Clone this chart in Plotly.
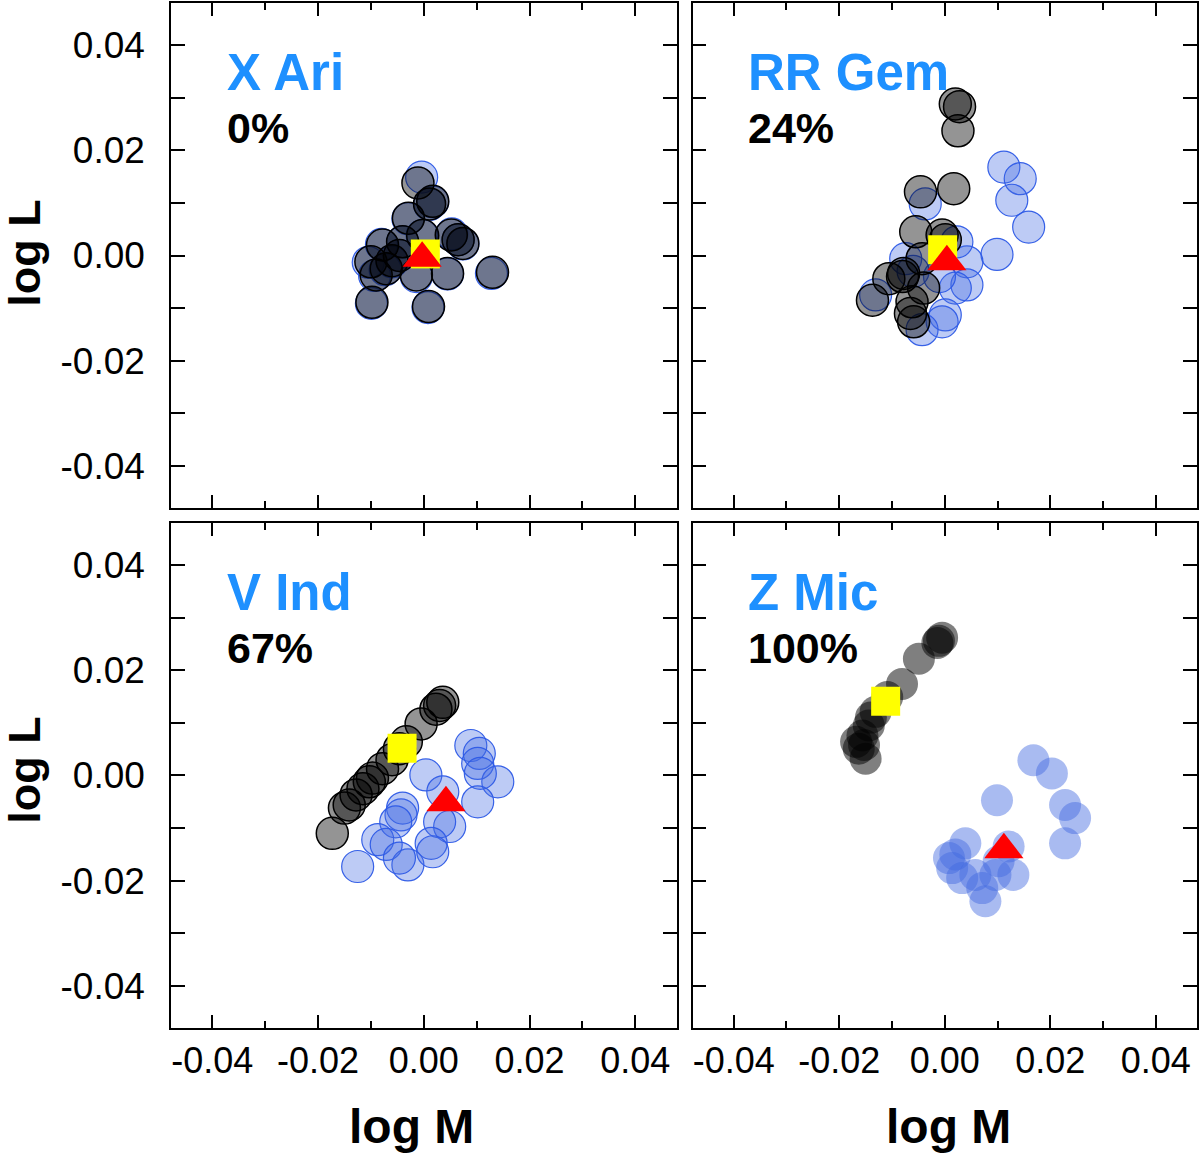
import plotly.graph_objects as go
from plotly.subplots import make_subplots

# ---- data (log M, log L) ----
stars = ["X Ari", "RR Gem", "V Ind", "Z Mic"]
percents = ["0%", "24%", "67%", "100%"]

xari_black_x = [-0.0011, 0.0011, 0.0017, -0.0029, 0.0052, 0.0074, 0.0065, 0.0130, -0.0098, 0.0009,
                0.0045, -0.0100, -0.0078, -0.0071, -0.0046, -0.0090, -0.0014, -0.0040, -0.0002, -0.0060]
xari_black_y = [0.0138, 0.0098, 0.0103, 0.0071, 0.0039, 0.0023, 0.0030, -0.0032, -0.0089, -0.0097,
                -0.0034, -0.0012, 0.0020, -0.0025, 0.0000, -0.0037, -0.0037, 0.0026, 0.0038, -0.0010]
xari_blue_x = [-0.0004, 0.0011, 0.0017, -0.0030, 0.0053, 0.0074, 0.0065, 0.0128, -0.0099, 0.0008,
               0.0045, -0.0105, -0.0080, -0.0073, -0.0046, -0.0093, -0.0014, -0.0040, -0.0003, -0.0060]
xari_blue_y = [0.0149, 0.0097, 0.0102, 0.0070, 0.0041, 0.0022, 0.0030, -0.0034, -0.0091, -0.0099,
               -0.0035, -0.0013, 0.0021, -0.0027, 0.0000, -0.0038, -0.0040, 0.0026, 0.0038, -0.0012]

rrgem_black_x = [0.0020, 0.0028, 0.0025, -0.0046, 0.0017, -0.0055, -0.0005, 0.0001, -0.0043, -0.0106,
                 -0.0078, -0.0137, -0.0040, -0.0062, -0.0065, -0.0059, -0.0080]
rrgem_black_y = [0.0288, 0.0283, 0.0237, 0.0121, 0.0127, 0.0045, 0.0039, 0.0030, -0.0006, -0.0044,
                 -0.0034, -0.0085, -0.0062, -0.0088, -0.0110, -0.0126, -0.0040]
rrgem_blue_x = [0.0112, 0.0143, 0.0127, 0.0159, 0.0099, 0.0042, 0.0042, 0.0020, 0.0001, -0.0005,
                -0.0043, -0.0037, -0.0074, -0.0131, 0.0023, -0.0010, -0.0060]
rrgem_blue_y = [0.0168, 0.0146, 0.0105, 0.0054, 0.0002, -0.0012, -0.0056, -0.0062, -0.0113, -0.0126,
                -0.0141, 0.0098, -0.0006, -0.0075, 0.0026, -0.0040, -0.0030]

vind_black_x = [-0.0173, -0.0141, -0.0150, -0.0128, -0.0103, -0.0097, -0.0078, -0.0046, -0.0033,
                -0.0005, 0.0023, 0.0036, 0.0030, -0.0115, -0.0060]
vind_black_y = [-0.0110, -0.0056, -0.0062, -0.0037, -0.0012, -0.0005, 0.0013, 0.0051, 0.0064,
                0.0098, 0.0126, 0.0139, 0.0133, -0.0025, 0.0030]
vind_blue_x = [0.0089, 0.0105, 0.0102, 0.0140, 0.0107, 0.0102, 0.0004, 0.0036, 0.0049, 0.0030,
               -0.0040, -0.0043, -0.0053, -0.0087, -0.0071, -0.0125, -0.0030, -0.0046, 0.0014, 0.0017]
vind_blue_y = [0.0057, 0.0042, 0.0023, -0.0012, 0.0004, -0.0050, 0.0001, -0.0031, -0.0097, -0.0088,
               -0.0062, -0.0075, -0.0088, -0.0122, -0.0131, -0.0173, -0.0170, -0.0157, -0.0129, -0.0145]

zmic_black_x = [-0.0011, -0.0014, -0.0005, -0.0049, -0.0081, -0.0109, -0.0131, -0.0144, -0.0156,
                -0.0163, -0.0150, -0.0153, -0.0168, -0.0140]
zmic_black_y = [0.0256, 0.0252, 0.0262, 0.0222, 0.0174, 0.0149, 0.0121, 0.0095, 0.0076,
                0.0051, 0.0032, 0.0058, 0.0064, 0.0110]
zmic_blue_x = [0.0168, 0.0203, 0.0228, 0.0247, 0.0228, 0.0099, 0.0121, 0.0130, 0.0039, 0.0008,
               0.0014, 0.0033, 0.0071, 0.0077, 0.0096, 0.0058, 0.0102, 0.0020]
zmic_blue_y = [0.0029, 0.0004, -0.0056, -0.0081, -0.0129, -0.0047, -0.0135, -0.0189, -0.0129, -0.0157,
               -0.0176, -0.0195, -0.0214, -0.0239, -0.0189, -0.0189, -0.0163, -0.0150]

# yellow square and red triangle per star
square_x = [0.0003, -0.0004, -0.0041, -0.0112]
square_y = [0.0003, 0.0011, 0.0052, 0.0141]
triangle_x = [-0.0003, 0.0004, 0.0042, 0.0112]
triangle_y = [-0.0005, -0.0012, -0.0052, -0.0141]

black_sets = [(xari_black_x, xari_black_y), (rrgem_black_x, rrgem_black_y),
              (vind_black_x, vind_black_y), (zmic_black_x, zmic_black_y)]
blue_sets = [(xari_blue_x, xari_blue_y), (rrgem_blue_x, rrgem_blue_y),
             (vind_blue_x, vind_blue_y), (zmic_blue_x, zmic_blue_y)]

FONT = "Liberation Sans, Arial, Helvetica, sans-serif"
NAME_BLUE = "#1E90FF"

fig = make_subplots(rows=2, cols=2)
cells = [(1, 1), (1, 2), (2, 1), (2, 2)]

for i, (r, c) in enumerate(cells):
    outlined = i < 3  # Z Mic circles are drawn without edges
    bx, by = blue_sets[i]
    fig.add_trace(go.Scatter(
        x=bx, y=by, mode="markers",
        marker=dict(size=32, color="rgba(65,105,225,0.35)" if outlined else "rgba(65,105,225,0.45)",
                    line=dict(color="rgba(45,90,230,0.95)", width=1.2 if outlined else 0)),
    ), row=r, col=c)
    kx, ky = black_sets[i]
    fig.add_trace(go.Scatter(
        x=kx, y=ky, mode="markers",
        marker=dict(size=32, color="rgba(0,0,0,0.42)" if outlined else "rgba(0,0,0,0.5)",
                    line=dict(color="black", width=1.5 if outlined else 0)),
    ), row=r, col=c)
    fig.add_trace(go.Scatter(
        x=[square_x[i]], y=[square_y[i]], mode="markers",
        marker=dict(symbol="square", size=29, color="#FFFF00", line=dict(width=0)),
    ), row=r, col=c)
    fig.add_trace(go.Scatter(
        x=[triangle_x[i]], y=[triangle_y[i]], mode="markers",
        marker=dict(symbol="triangle-up", size=34, color="#FF0000", line=dict(width=0)),
    ), row=r, col=c)

# panel geometry in paper coords
x_domains = [[0.0, 0.4927], [0.5083, 1.0], [0.0, 0.4927], [0.5083, 1.0]]
y_domains = [[0.5073, 1.0], [0.5073, 1.0], [0.0, 0.4927], [0.0, 0.4927]]

y_vals = [-0.04, -0.03, -0.02, -0.01, 0.0, 0.01, 0.02, 0.03, 0.04]
y_text = ["-0.04", "", "-0.02", "", "0.00", "", "0.02", "", "0.04"]
x_vals = [-0.04, -0.02, 0.0, 0.02, 0.04]
x_text = ["-0.04", "-0.02", "0.00", "0.02", "0.04"]

for i in range(4):
    sfx = "" if i == 0 else str(i + 1)
    fig.layout["xaxis" + sfx].update(
        domain=x_domains[i], range=[-0.0478, 0.0478],
        showline=True, linecolor="black", linewidth=1.5, mirror="allticks",
        ticks="inside", ticklen=13, tickwidth=1.5, tickcolor="black",
        tickvals=x_vals, ticktext=x_text,
        minor=dict(ticks="inside", ticklen=7, tickwidth=1.5, tickcolor="black", dtick=0.01, tick0=0.01),
        showgrid=False, zeroline=False, showticklabels=i >= 2,
        tickfont=dict(family=FONT, size=36, color="black"), ticklabelstandoff=0,
    )
    fig.layout["yaxis" + sfx].update(
        domain=y_domains[i], range=[-0.048, 0.048],
        showline=True, linecolor="black", linewidth=1.5, mirror="allticks",
        ticks="inside", ticklen=14, tickwidth=1.5, tickcolor="black",
        tickvals=y_vals, ticktext=y_text,
        showgrid=False, zeroline=False, showticklabels=i in (0, 2),
        tickfont=dict(family=FONT, size=37, color="black"), ticklabelstandoff=17,
    )

annotations = []
for i in range(4):
    sfx = "" if i == 0 else str(i + 1)
    annotations.append(dict(
        xref="x" + sfx + " domain", yref="y" + sfx + " domain", x=0.107, y=0.862,
        xanchor="left", yanchor="middle", showarrow=False, text="<b>" + stars[i] + "</b>",
        font=dict(family=FONT, size=51, color=NAME_BLUE),
    ))
    annotations.append(dict(
        xref="x" + sfx + " domain", yref="y" + sfx + " domain", x=0.107, y=0.752,
        xanchor="left", yanchor="middle", showarrow=False, text="<b>" + percents[i] + "</b>",
        font=dict(family=FONT, size=43, color="black"),
    ))

for yy in (0.7556, 0.2512):
    annotations.append(dict(
        xref="paper", yref="paper", x=-0.1431, y=yy, xanchor="center", yanchor="middle",
        showarrow=False, textangle=-90, text="<b>log L</b>",
        font=dict(family=FONT, size=45, color="black"),
    ))
for xx in (0.2347, 0.7575):
    annotations.append(dict(
        xref="paper", yref="paper", x=xx, y=-0.0964, xanchor="center", yanchor="middle",
        showarrow=False, text="<b>log M</b>",
        font=dict(family=FONT, size=48, color="black"),
    ))

fig.update_layout(
    width=1200, height=1157,
    margin=dict(l=171, r=2, t=1, b=129),
    paper_bgcolor="white", plot_bgcolor="white",
    showlegend=False,
    annotations=annotations,
)

# drop the browser's default 8px body margin so the figure sits at the page corner
fig.write_html("out.html", config={"displayModeBar": False},
               post_script="document.body.style.margin='0';")
